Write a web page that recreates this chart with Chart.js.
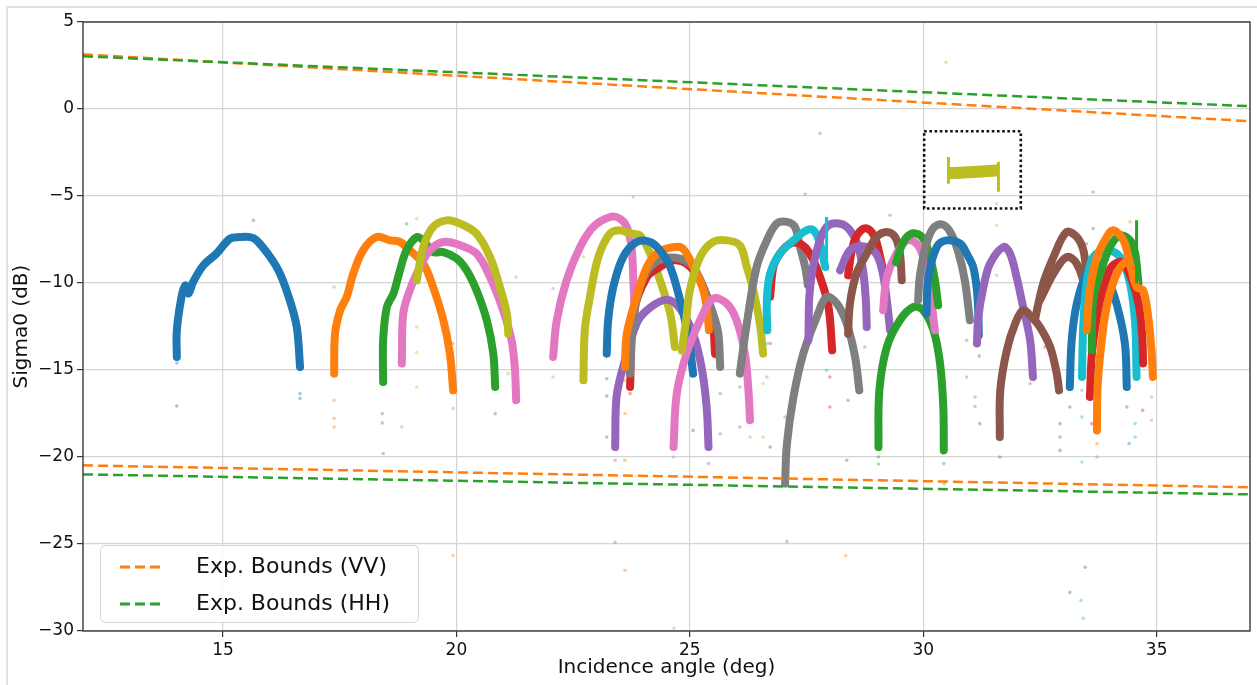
<!DOCTYPE html>
<html>
<head>
<meta charset="utf-8">
<script src="https://cdn.jsdelivr.net/npm/chart.js@4.4.1/dist/chart.umd.min.js"></script>
<style>
  html, body { margin: 0; padding: 0; background: #fff; }
  #wrap { position: relative; width: 1257px; height: 685px; }
</style>
</head>
<body>
<div id="wrap"><canvas id="sigmaChart" width="1257" height="685"></canvas></div>
<script>
// axis ticks
var xTicks = [15, 20, 25, 30, 35];
var yTicks = [-30, -25, -20, -15, -10, -5, 0, 5];

// expected bounds, [angle, sigma0]
var vvUpper = [[12, 3.14], [37, -0.70]];
var hhUpper = [[12, 3.03], [37, 0.16]];
var vvLower = [[12, -20.48], [37, -21.74]];
var hhLower = [[12, -21.00], [37, -22.15]];

// one pass per array, [angle, sigma0]
var blue1 = [[14.01,-14.25],[14.01,-12.72],[14.11,-10.8],[14.19,-10.13],[14.26,-10.61],[14.36,-9.94],[14.58,-8.98],[14.86,-8.31],[15.15,-7.45],[15.36,-7.36],[15.58,-7.36],[15.72,-7.55],[16.01,-8.51],[16.22,-9.46],[16.43,-10.99],[16.58,-12.53],[16.65,-14.83]];
var orange1 = [[17.38,-15.21],[17.40,-12.91],[17.51,-11.57],[17.65,-10.80],[17.79,-9.46],[18.00,-8.12],[18.29,-7.36],[18.58,-7.55],[18.79,-7.64],[19.00,-8.12],[19.29,-8.89],[19.50,-10.23],[19.72,-12.14],[19.86,-14.06],[19.93,-16.17]];
var green1 = [[18.43,-15.69],[18.43,-13.29],[18.51,-11.38],[18.65,-10.61],[18.78,-9.37],[18.93,-8.12],[19.15,-7.36],[19.29,-7.55],[19.50,-8.22],[19.72,-8.22],[20.01,-8.60],[20.22,-9.27],[20.43,-10.42],[20.65,-12.14],[20.79,-14.06],[20.83,-15.98]];
var olive1 = [[19.15,-9.85],[19.29,-7.93],[19.50,-6.78],[19.79,-6.40],[20.08,-6.59],[20.43,-7.16],[20.72,-8.51],[20.93,-10.23],[21.08,-11.76],[21.11,-12.91]];
var pink1 = [[18.83,-14.63],[18.86,-11.76],[19.00,-10.42],[19.22,-9.08],[19.43,-8.12],[19.72,-7.64],[20.08,-7.83],[20.43,-8.31],[20.72,-9.66],[21.00,-11.57],[21.18,-13.29],[21.25,-14.83],[21.28,-16.74]];
var pink2 = [[22.07,-14.25],[22.15,-12.14],[22.36,-9.84],[22.65,-7.93],[22.93,-6.78],[23.29,-6.21],[23.50,-6.30],[23.65,-6.78],[23.75,-7.93],[23.79,-9.84],[23.83,-12.53]];
var olive2 = [[22.72,-15.59],[22.75,-12.72],[22.86,-10.80],[23.04,-8.51],[23.29,-7.16],[23.50,-6.97],[23.72,-7.16],[23.93,-7.26],[24.15,-8.31],[24.36,-9.84],[24.58,-11.76],[24.68,-13.68]];
var blue2 = [[23.22,-14.06],[23.25,-12.14],[23.36,-10.23],[23.57,-8.51],[23.86,-7.64],[24.15,-7.64],[24.36,-8.12],[24.58,-9.08],[24.79,-10.99],[24.97,-13.10],[25.07,-15.21]];
var orange2 = [[23.61,-14.83],[23.65,-12.91],[23.86,-10.80],[24.08,-9.08],[24.29,-8.31],[24.50,-8.02],[24.79,-7.93],[24.93,-8.31],[25.15,-9.46],[25.29,-10.42],[25.36,-11.38],[25.41,-12.7]];
var gray1 = [[23.72,-15.21],[23.79,-12.14],[23.93,-10.23],[24.15,-9.08],[24.43,-8.60],[24.79,-8.60],[25.07,-9.08],[25.29,-10.23],[25.50,-11.76],[25.61,-12.91],[25.65,-14.83]];
var red1 = [[23.72,-15.98],[23.79,-11.76],[24.08,-9.66],[24.36,-9.08],[24.65,-8.70],[24.93,-8.89],[25.22,-9.84],[25.47,-11.76],[25.54,-14.06]];
var purple1 = [[23.40,-19.43],[23.43,-16.55],[23.57,-14.83],[23.86,-12.33],[24.08,-11.57],[24.43,-10.99],[24.65,-11.09],[24.86,-11.76],[25.07,-12.91],[25.25,-14.83],[25.36,-17.13],[25.40,-19.43]];
var pink3 = [[24.65,-19.43],[24.72,-16.36],[24.93,-14.06],[25.22,-12.14],[25.50,-10.90],[25.79,-11.18],[26.00,-12.14],[26.18,-14.06],[26.25,-15.98],[26.29,-17.89]];
var olive3 = [[24.83,-13.87],[24.92,-12.14],[25.00,-10.42],[25.22,-8.51],[25.50,-7.64],[25.79,-7.55],[26.07,-7.83],[26.22,-9.08],[26.36,-10.42],[26.50,-12.33],[26.57,-14.06]];
var gray2 = [[26.07,-15.21],[26.22,-12.33],[26.43,-9.08],[26.65,-7.55],[26.86,-6.59],[27.08,-6.49],[27.25,-6.78],[27.36,-7.93],[27.47,-9.08],[27.53,-10.13]];
var red2 = [[26.72,-10.80],[26.79,-9.08],[26.93,-8.31],[27.15,-7.74],[27.36,-7.74],[27.57,-8.31],[27.79,-9.66],[27.97,-11.38],[28.05,-13.87]];
var cyan1 = [[26.66,-12.72],[26.65,-10.99],[26.72,-9.46],[26.93,-8.31],[27.22,-7.55],[27.50,-6.97],[27.65,-6.97],[27.79,-7.74],[27.90,-9.08]];
var gray3 = [[27.04,-21.53],[27.08,-19.23],[27.22,-16.55],[27.43,-14.06],[27.72,-11.95],[27.93,-10.80],[28.15,-11.18],[28.36,-12.33],[28.54,-14.25],[28.63,-16.17]];
var purple2 = [[27.54,-13.29],[27.57,-10.42],[27.72,-8.12],[27.93,-6.78],[28.22,-6.59],[28.43,-6.97],[28.61,-7.93],[28.72,-9.46],[28.77,-10.99],[28.79,-12.53]];
var red3 = [[28.39,-9.56],[28.47,-8.12],[28.58,-7.26],[28.77,-6.86],[28.95,-7.32],[29.07,-8.41],[29.18,-9.84]];
var purple3 = [[28.22,-9.27],[28.43,-8.12],[28.69,-7.89],[28.97,-8.24],[29.12,-9.27],[29.22,-10.99],[29.29,-12.72]];
var brown1 = [[28.39,-12.91],[28.43,-11.18],[28.57,-9.46],[28.79,-8.31],[29.00,-7.36],[29.22,-7.07],[29.40,-7.36],[29.50,-8.31],[29.54,-9.84]];
var green3 = [[29.04,-19.43],[29.06,-16.17],[29.22,-13.68],[29.50,-12.14],[29.79,-11.38],[30.00,-11.57],[30.22,-12.72],[30.36,-14.63],[30.43,-17.13],[30.44,-19.62]];
var pink4 = [[29.14,-11.57],[29.22,-9.66],[29.43,-8.31],[29.65,-7.55],[29.86,-7.74],[30.00,-8.51],[30.14,-10.42],[30.25,-12.72]];
var green2 = [[29.42,-8.81],[29.57,-7.66],[29.78,-7.14],[30.00,-7.43],[30.14,-8.47],[30.25,-9.84],[30.32,-11.28]];
var gray4 = [[29.89,-10.99],[29.93,-9.56],[30.06,-7.83],[30.21,-6.86],[30.40,-6.63],[30.57,-7.03],[30.74,-8.12],[30.89,-9.84],[31.00,-12.14]];
var blue3 = [[30.07,-11.76],[30.11,-9.66],[30.29,-7.93],[30.50,-7.55],[30.79,-7.74],[30.93,-8.31],[31.07,-9.08],[31.15,-10.42],[31.18,-11.76],[31.19,-13.01]];
var purple4 = [[31.15,-13.48],[31.18,-11.95],[31.29,-10.23],[31.43,-8.89],[31.72,-7.93],[31.86,-8.31],[32.00,-9.66],[32.14,-11.38],[32.29,-13.29],[32.35,-15.40]];
var brown2 = [[31.64,-18.85],[31.65,-16.17],[31.79,-13.87],[31.97,-12.33],[32.14,-11.57],[32.32,-11.95],[32.50,-12.53],[32.72,-13.68],[32.86,-15.21],[32.91,-16.17]];
var brown3 = [[32.39,-12.14],[32.57,-10.03],[32.79,-8.51],[33.07,-7.07],[33.29,-7.36],[33.43,-8.12],[33.49,-9.27]];
var brown4 = [[32.50,-10.99],[32.79,-9.46],[33.07,-8.51],[33.29,-8.89],[33.47,-10.42],[33.51,-12.33]];
var blue4 = [[33.14,-15.98],[33.18,-13.29],[33.29,-11.18],[33.50,-9.46],[33.72,-8.89],[33.93,-9.66],[34.14,-11.18],[34.32,-13.48],[34.36,-15.98]];
var cyan2 = [[33.40,-15.40],[33.43,-12.33],[33.50,-10.03],[33.64,-8.51],[33.93,-8.12],[34.22,-8.51],[34.43,-10.03],[34.54,-12.33],[34.57,-15.40]];
var red4 = [[33.57,-16.55],[33.62,-13.87],[33.79,-10.99],[33.94,-9.67],[34.04,-9.04],[34.26,-8.81],[34.47,-9.84],[34.62,-11.28],[34.69,-13.01],[34.71,-14.62]];
var orange4 = [[33.72,-18.47],[33.74,-15.76],[33.85,-12.72],[33.96,-10.99],[34.15,-9.44],[34.34,-8.81],[34.52,-9.27]];
var green4 = [[33.61,-13.87],[33.64,-10.99],[33.79,-9.46],[34.00,-7.93],[34.22,-7.26],[34.43,-7.55],[34.54,-8.31],[34.61,-10.03]];
var orange3 = [[33.50,-12.72],[33.57,-10.42],[33.72,-8.51],[33.93,-7.36],[34.07,-6.97],[34.29,-7.55],[34.43,-8.89],[34.57,-10.23],[34.71,-10.42],[34.82,-11.95],[34.89,-13.87],[34.92,-15.40]];

// flat pass inside the dotted box
var oliveFlat = [[30.54,-3.68],[30.80,-3.66],[31.10,-3.62],[31.35,-3.57],[31.60,-3.52]];
var oliveEdgeL = [[30.54,-2.76],[30.54,-4.29]];
var oliveEdgeR = [[31.61,-3.03],[31.61,-4.75]];
var cyanEdge = [[27.93,-6.21],[27.93,-9.27]];
var greenEdge = [[34.57,-6.40],[34.57,-10.03]];
var boxCorners = [[30.02,-1.28],[32.09,-1.28],[32.09,-5.72],[30.02,-5.72],[30.02,-1.28]];

// stray samples
var blueDots = [[14.01,-17.07],[14.01,-11.86],[14.01,-14.6],[16.65,-16.36],[16.65,-16.64],[15.65,-6.40],[23.22,-15.5],[23.22,-16.5],[23.22,-18.85],[25.07,-18.47],[31.21,-18.08],[31.2,-14.2],[33.14,-17.13],[34.36,-17.13],[34.41,-19.23]];
var orangeDots = [[17.38,-16.74],[17.38,-17.79],[17.38,-18.28],[17.38,-10.23],[19.93,-13.48],[19.93,-17.22],[19.93,-25.66],[23.61,-15.6],[23.61,-17.5],[23.61,-20.19],[23.61,-26.51],[25.36,-15.59],[28.34,-25.66],[33.72,-19.23],[33.72,-20.0],[34.89,-16.55],[34.89,-17.89],[34.43,-6.49]];
var greenDots = [[18.41,-17.51],[18.41,-18.05],[18.43,-19.8],[20.83,-17.51],[29.04,-20.0],[29.04,-20.4],[30.44,-20.38],[30.45,-21.53],[33.64,-4.77],[33.64,-6.87],[18.93,-6.6]];
var redDots = [[25.54,-14.25],[23.72,-16.36],[28.0,-15.4],[28.0,-17.13],[26.72,-13.48],[26.72,-19.43],[33.61,-18.08],[34.70,-17.32]];
var purpleDots = [[29.29,-6.11],[28.75,-13.68],[27.54,-13.48],[31.11,-16.55],[31.11,-17.1],[32.29,-15.78],[23.40,-20.19],[25.40,-20.38],[23.4,-24.9]];
var brownDots = [[31.64,-20.0],[32.93,-18.08],[32.93,-18.85],[32.61,-13.68],[33.50,-7.74],[32.93,-19.62],[33.14,-27.78],[33.47,-26.34],[28.39,-16.74],[28.36,-20.19]];
var pinkDots = [[21.28,-9.66],[18.83,-18.28],[22.07,-15.40],[22.07,-10.32],[24.65,-20.0],[26.29,-18.85],[24.66,-29.84],[23.79,-5.06],[23.79,-7.0],[23.79,-9.2],[23.79,-11.0],[23.79,-12.9]];
var grayDots = [[25.65,-16.36],[25.65,-18.66],[26.07,-15.98],[26.07,-18.28],[27.04,-17.70],[27.79,-1.40],[27.47,-4.90],[27.08,-24.85],[30.93,-13.29],[30.93,-15.40]];
var oliveDots = [[19.15,-6.30],[19.15,-12.53],[19.15,-15.98],[19.15,-14.0],[21.11,-15.21],[22.72,-8.51],[22.72,-15.59],[24.79,-14.06],[26.57,-15.78],[26.57,-18.85],[31.57,-5.44],[31.57,-6.68],[31.57,-9.56],[30.49,2.68]];
var cyanDots = [[26.65,-13.48],[26.65,-15.40],[27.93,-15.02],[33.40,-16.17],[33.40,-17.70],[33.40,-20.29],[34.54,-18.08],[34.54,-18.85],[33.38,-28.24],[33.43,-29.27]];

var legendLabels = ['Exp. Bounds (VV)', 'Exp. Bounds (HH)'];

var C = {
  blue: '#1f77b4', orange: '#ff7f0e', green: '#2ca02c', red: '#d62728', purple: '#9467bd',
  brown: '#8c564b', pink: '#e377c2', gray: '#7f7f7f', olive: '#bcbd22', cyan: '#17becf'
};

function pts(arr) {
  return arr.map(function(p) { return { x: p[0], y: p[1] }; });
}
function alpha(hex, a) {
  var n = parseInt(hex.slice(1), 16);
  return 'rgba(' + (n >> 16) + ',' + ((n >> 8) & 255) + ',' + (n & 255) + ',' + a + ')';
}

// drawing order: later entries end up on top
var passes = [
  [blue1, C.blue], [orange1, C.orange], [green1, C.green], [pink1, C.pink], [olive1, C.olive],
  [pink2, C.pink], [olive2, C.olive], [purple1, C.purple], [red1, C.red], [gray1, C.gray],
  [orange2, C.orange], [blue2, C.blue], [pink3, C.pink], [olive3, C.olive], [gray2, C.gray],
  [red2, C.red], [cyan1, C.cyan], [gray3, C.gray], [purple2, C.purple], [red3, C.red],
  [purple3, C.purple], [brown1, C.brown], [green3, C.green], [pink4, C.pink], [green2, C.green],
  [gray4, C.gray], [blue3, C.blue], [purple4, C.purple], [brown2, C.brown], [brown4, C.brown],
  [brown3, C.brown], [blue4, C.blue], [cyan2, C.cyan], [red4, C.red], [orange4, C.orange],
  [green4, C.green], [orange3, C.orange]
];
var edges = [[oliveEdgeL, C.olive], [oliveEdgeR, C.olive], [cyanEdge, C.cyan], [greenEdge, C.green]];
var strays = [
  [blueDots, C.blue], [orangeDots, C.orange], [greenDots, C.green], [redDots, C.red],
  [purpleDots, C.purple], [brownDots, C.brown], [pinkDots, C.pink], [grayDots, C.gray],
  [oliveDots, C.olive], [cyanDots, C.cyan]
];

var datasets = [];
strays.forEach(function(s) {
  datasets.push({ type: 'scatter', data: pts(s[0]), pointRadius: 1.8, pointBorderWidth: 0,
    backgroundColor: alpha(s[1], 0.4) });
});
passes.forEach(function(p) {
  datasets.push({ type: 'line', data: pts(p[0]), borderColor: p[1], borderWidth: 8, tension: 0.35,
    pointRadius: 0, fill: false, borderCapStyle: 'round', borderJoinStyle: 'round' });
});
edges.forEach(function(e) {
  datasets.push({ type: 'line', data: pts(e[0]), borderColor: e[1], borderWidth: 3, pointRadius: 0, fill: false });
});
datasets.push({ type: 'line', data: pts(oliveFlat), borderColor: C.olive, borderWidth: 12, tension: 0.3,
  pointRadius: 0, fill: false });
datasets.push({ type: 'line', data: pts(boxCorners), borderColor: '#111', borderWidth: 2.6,
  borderDash: [2.6, 2.6], pointRadius: 0, fill: false, tension: 0 });

var bounds = [[vvUpper, C.orange], [hhUpper, C.green], [vvLower, C.orange], [hhLower, C.green]];
bounds.forEach(function(b) {
  datasets.push({ type: 'line', data: pts(b[0]), borderColor: b[1], borderWidth: 2.5,
    borderDash: [10, 5], pointRadius: 0, fill: false, tension: 0 });
});

// later datasets drawn on top
datasets.forEach(function(d, i) { d.order = datasets.length - i; });

var framePlugin = {
  id: 'frame',
  beforeDraw: function(chart) {
    var ctx = chart.ctx;
    ctx.save();
    ctx.fillStyle = '#fff';
    ctx.fillRect(0, 0, chart.width, chart.height);
    ctx.strokeStyle = '#e2e2e2';
    ctx.lineWidth = 2;
    ctx.beginPath();
    ctx.moveTo(7, chart.height);
    ctx.lineTo(7, 7);
    ctx.lineTo(chart.width, 7);
    ctx.stroke();
    ctx.restore();
  },
  afterDatasetsDraw: function(chart) {
    var a = chart.chartArea, ctx = chart.ctx;
    ctx.save();
    ctx.strokeStyle = '#3a3a3a';
    ctx.lineWidth = 1.4;
    ctx.strokeRect(a.left, a.top, a.right - a.left, a.bottom - a.top);
    ctx.restore();
  }
};

var legendPlugin = {
  id: 'boundsLegend',
  afterDraw: function(chart) {
    var a = chart.chartArea, ctx = chart.ctx;
    var x = a.left + 17, w = 318, h = 77, y = a.bottom - 9 - h;
    ctx.save();
    ctx.beginPath();
    ctx.roundRect(x + 0.5, y + 0.5, w, h, 5);
    ctx.fillStyle = 'rgba(255,255,255,0.85)';
    ctx.fill();
    ctx.strokeStyle = '#d6d6d6';
    ctx.lineWidth = 1;
    ctx.stroke();
    var cols = [C.orange, C.green];
    ctx.font = '22px "DejaVu Sans"';
    ctx.textBaseline = 'middle';
    legendLabels.forEach(function(label, i) {
      var ly = y + 22 + i * 37;
      ctx.strokeStyle = cols[i];
      ctx.lineWidth = 3;
      ctx.setLineDash([10, 5]);
      ctx.beginPath();
      ctx.moveTo(x + 20, ly);
      ctx.lineTo(x + 65, ly);
      ctx.stroke();
      ctx.setLineDash([]);
      ctx.fillStyle = '#111';
      ctx.fillText(label, x + 96, ly);
    });
    ctx.restore();
  }
};

var tickFont = { family: 'DejaVu Sans', size: 17 };
var titleFont = { family: 'DejaVu Sans', size: 20 };

new Chart(document.getElementById('sigmaChart'), {
  type: 'scatter',
  data: { datasets: datasets },
  options: {
    responsive: false,
    devicePixelRatio: 1,
    animation: false,
    layout: { padding: { left: 0, right: 7, top: 22, bottom: 0 } },
    plugins: { legend: { display: false }, tooltip: { enabled: false } },
    scales: {
      x: {
        type: 'linear', min: 12, max: 37,
        afterBuildTicks: function(s) { s.ticks = xTicks.map(function(v) { return { value: v }; }); },
        afterFit: function(s) { s.height = 54; },
        grid: { color: '#d4d4d4', lineWidth: 1.2, tickColor: '#333', tickLength: 6 },
        border: { display: false },
        ticks: { color: '#111', font: tickFont, padding: 3, maxRotation: 0 },
        title: { display: true, text: 'Incidence angle (deg)', color: '#111', font: titleFont,
          padding: { top: 0, bottom: 5 } }
      },
      y: {
        type: 'linear', min: -30, max: 5,
        afterBuildTicks: function(s) { s.ticks = yTicks.map(function(v) { return { value: v }; }); },
        afterFit: function(s) { s.width = 83; },
        grid: { color: '#d4d4d4', lineWidth: 1.2, tickColor: '#333', tickLength: 6 },
        border: { display: false },
        ticks: { color: '#111', font: tickFont, padding: 3,
          callback: function(v) { return v < 0 ? '\u2212' + Math.abs(v) : String(v); } },
        title: { display: true, text: 'Sigma0 (dB)', color: '#111', font: titleFont,
          padding: { top: 10, bottom: 0 } }
      }
    }
  },
  plugins: [framePlugin, legendPlugin]
});
</script>
</body>
</html>
